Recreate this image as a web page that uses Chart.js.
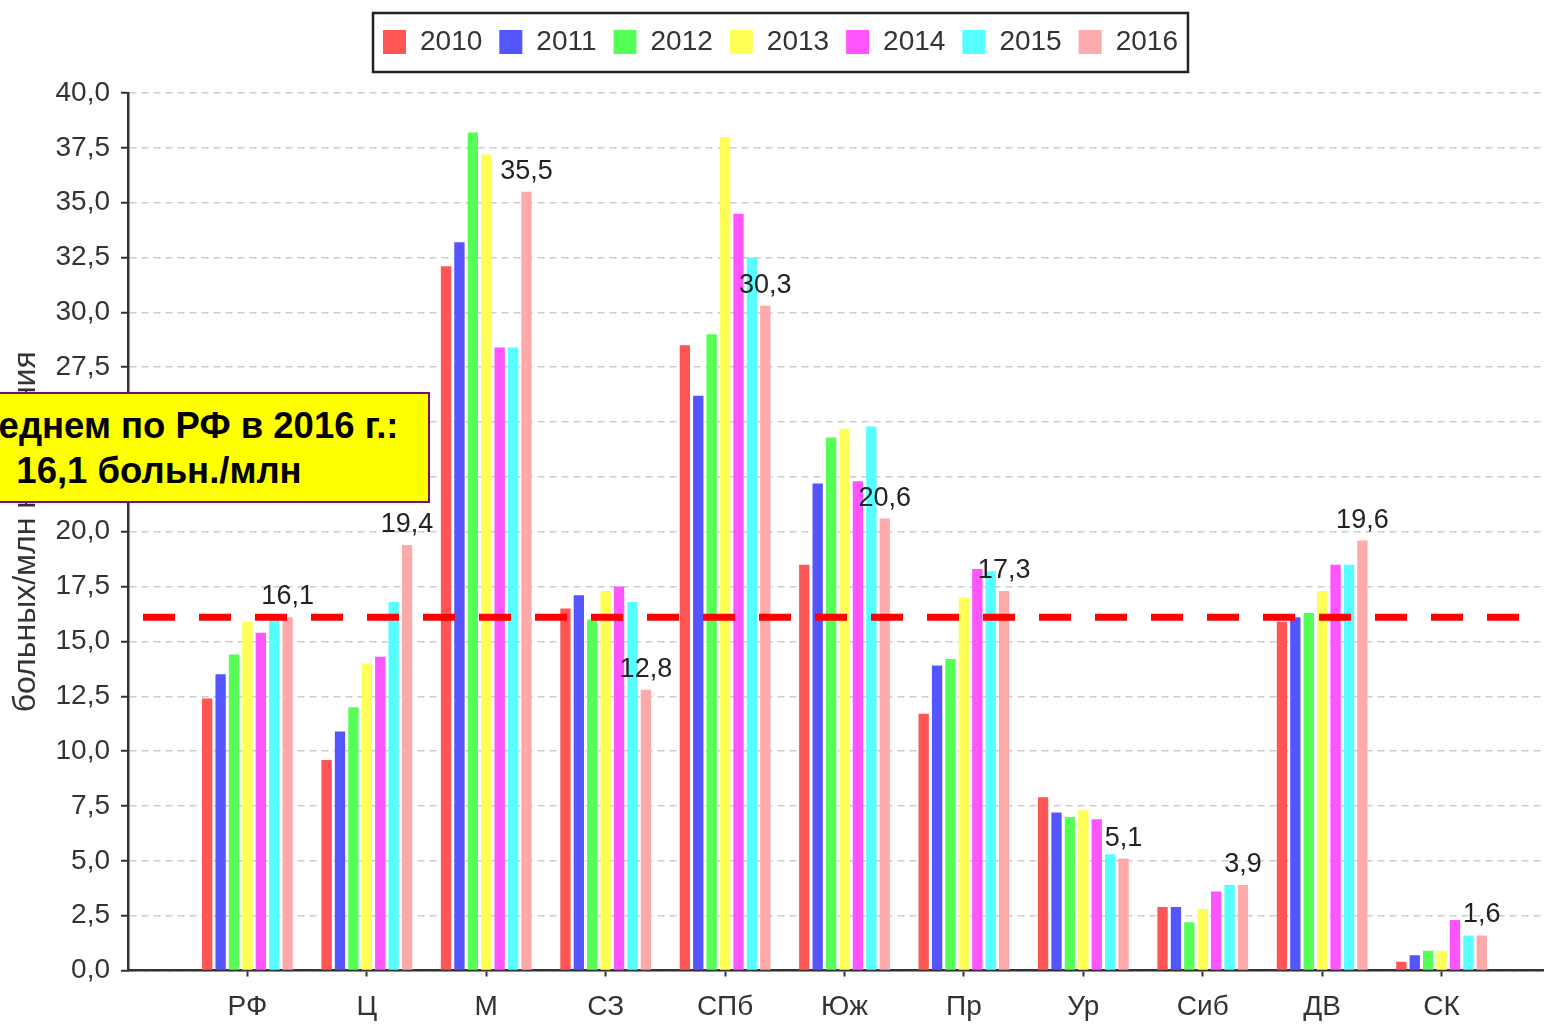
<!DOCTYPE html>
<html lang="ru">
<head>
<meta charset="utf-8">
<title>Больных/млн населения по округам, 2010–2016</title>
<script src="https://cdn.jsdelivr.net/npm/chart.js@4.4.1/dist/chart.umd.min.js"></script>
<style>
  html, body { margin: 0; padding: 0; background: #fff; overflow: hidden; }
  #wrap { position: relative; width: 1544px; height: 1024px; overflow: hidden; }
  #chart { position: absolute; left: 0; top: 0; }
  #note {
    position: absolute; left: -112px; top: 392px;
    width: 542px; height: 111px; box-sizing: border-box;
    background: #ffff00; border: 2px solid #7a0a7a;
    padding-top: 9px;
    font: bold 36.5px 'Liberation Sans', Arial, sans-serif;
    line-height: 45px; text-align: center; color: #000;
    white-space: nowrap;
  }
</style>
</head>
<body>
<div id="wrap">
  <canvas id="chart" width="1580" height="1024"></canvas>
  <div id="note">В среднем по РФ в 2016 г.:<br>16,1 больн./млн</div>
</div>
<script>
const categories = ['РФ', 'Ц', 'М', 'СЗ', 'СПб', 'Юж', 'Пр', 'Ур', 'Сиб', 'ДВ', 'СК'];
const years = ['2010', '2011', '2012', '2013', '2014', '2015', '2016'];

const v2010 = [12.4, 9.6, 32.1, 16.5, 28.5, 18.5, 11.7, 7.9, 2.9, 15.9, 0.4];
const v2011 = [13.5, 10.9, 33.2, 17.1, 26.2, 22.2, 13.9, 7.2, 2.9, 16.1, 0.7];
const v2012 = [14.4, 12.0, 38.2, 16.0, 29.0, 24.3, 14.2, 7.0, 2.2, 16.3, 0.9];
const v2013 = [15.9, 14.0, 37.2, 17.3, 38.0, 24.7, 17.0, 7.3, 2.8, 17.3, 0.9];
const v2014 = [15.4, 14.3, 28.4, 17.5, 34.5, 22.3, 18.3, 6.9, 3.6, 18.5, 2.3];
const v2015 = [16.0, 16.8, 28.4, 16.8, 32.5, 24.8, 18.2, 5.3, 3.9, 18.5, 1.6];
const v2016 = [16.1, 19.4, 35.5, 12.8, 30.3, 20.6, 17.3, 5.1, 3.9, 19.6, 1.6];

const seriesValues = [v2010, v2011, v2012, v2013, v2014, v2015, v2016];
const colors = ['#ff5555', '#5555ff', '#55ff55', '#ffff55', '#ff55ff', '#55ffff', '#ffaaaa'];

const yMin = 0;
const yMax = 40;
const yStep = 2.5;
const averageRF = 16.1;
const yTitle = 'больных/млн населения';

const FONT = "'Liberation Sans', Arial, sans-serif";
const fmt = v => v.toFixed(1).replace('.', ',');

// empty slot on each side so the groups sit where the original puts them
const labels = [''].concat(categories, ['']);
const datasets = years.map((yr, i) => ({
  label: yr,
  data: [null].concat(seriesValues[i], [null]),
  backgroundColor: colors[i],
  borderWidth: 0,
  categoryPercentage: 0.786,
  barPercentage: 0.77
}));

// extra room under the legend
const legendSpace = {
  id: 'legendSpace',
  beforeInit(chart) {
    const fit = chart.legend.fit;
    chart.legend.fit = function () {
      fit.call(this);
      this.height = 82;
    };
  }
};

// frame around the legend
const legendFrame = {
  id: 'legendFrame',
  afterDraw(chart) {
    const boxes = chart.legend.legendHitBoxes;
    if (!boxes || !boxes.length) return;
    const left = Math.min(...boxes.map(b => b.left)) - 10;
    const right = Math.max(...boxes.map(b => b.left + b.width)) + 10;
    const top = boxes[0].top - 15;
    const bottom = boxes[0].top + boxes[0].height + 16;
    const ctx = chart.ctx;
    ctx.save();
    ctx.strokeStyle = '#222';
    ctx.lineWidth = 2.5;
    ctx.strokeRect(left, top, right - left, bottom - top);
    ctx.restore();
  }
};

// red dashed average line
const avgLine = {
  id: 'avgLine',
  afterDatasetsDraw(chart) {
    const {ctx, chartArea, scales: {y}} = chart;
    const py = y.getPixelForValue(averageRF);
    ctx.save();
    ctx.strokeStyle = '#ff0000';
    ctx.lineWidth = 7;
    ctx.setLineDash([32, 24]);
    ctx.beginPath();
    ctx.moveTo(chartArea.left + 15, py);
    ctx.lineTo(chartArea.right - 42, py);
    ctx.stroke();
    ctx.restore();
  }
};

// value labels over the 2016 bars
const lastLabels = {
  id: 'lastLabels',
  afterDatasetsDraw(chart) {
    const idx = chart.data.datasets.length - 1;
    const meta = chart.getDatasetMeta(idx);
    const data = chart.data.datasets[idx].data;
    const ctx = chart.ctx;
    ctx.save();
    ctx.font = '27px ' + FONT;
    ctx.fillStyle = '#222';
    ctx.textAlign = 'center';
    ctx.textBaseline = 'alphabetic';
    meta.data.forEach((bar, i) => {
      if (data[i] == null) return;
      ctx.fillText(fmt(data[i]), bar.x, bar.y - 13);
    });
    ctx.restore();
  }
};

new Chart(document.getElementById('chart'), {
  type: 'bar',
  data: { labels, datasets },
  plugins: [legendSpace, legendFrame, avgLine, lastLabels],
  options: {
    responsive: false,
    animation: false,
    layout: { padding: { top: 11, right: 19, bottom: 0, left: 0 } },
    plugins: {
      tooltip: { enabled: false },
      legend: {
        position: 'top',
        labels: {
          boxWidth: 23,
          boxHeight: 24,
          padding: 17,
          color: '#333',
          font: { family: FONT, size: 28 }
        }
      }
    },
    scales: {
      x: {
        offset: false,
        afterFit(scale) { scale.height = 53.5; },
        grid: {
          offset: false, drawOnChartArea: false, drawTicks: true, tickLength: 6, tickWidth: 2, color: '#333',
          tickColor: c => (c.tick && c.tick.label === '') ? 'rgba(0,0,0,0)' : '#333'
        },
        border: { display: true, color: '#333', width: 2.5 },
        ticks: {
          autoSkip: false, maxRotation: 0, padding: 14,
          color: '#333', font: { family: FONT, size: 28 }
        }
      },
      y: {
        min: yMin,
        max: yMax,
        afterFit(scale) { scale.width = 128; },
        grid: { color: '#cccccc', lineWidth: 1.5, tickLength: 7, tickColor: '#333', tickWidth: 2 },
        border: { display: true, color: '#333', width: 2.5, dash: [7, 5] },
        ticks: {
          stepSize: yStep, padding: 11,
          color: '#333', font: { family: FONT, size: 28 },
          callback: v => fmt(v)
        },
        title: {
          display: true, text: yTitle, color: '#333',
          font: { family: FONT, size: 32 },
          padding: { top: 7, bottom: 0 }
        }
      }
    }
  }
});
</script>
</body>
</html>
